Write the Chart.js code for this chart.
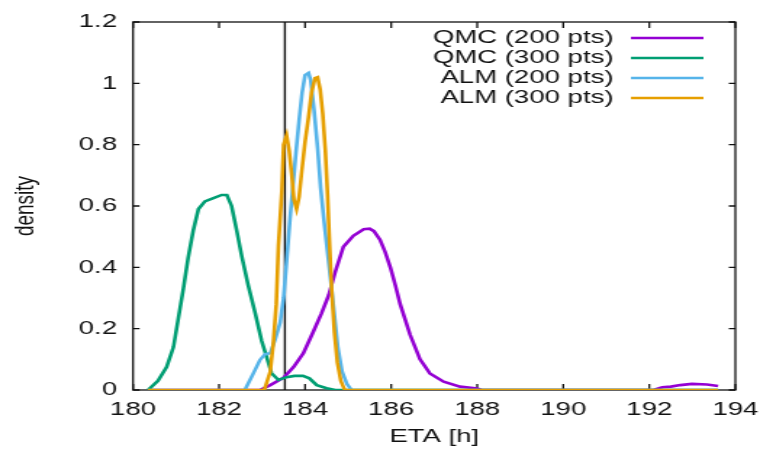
<!DOCTYPE html>
<html>
<head>
<meta charset="utf-8">
<script src="https://cdn.jsdelivr.net/npm/chart.js@4"></script>
<style>
body{margin:0;background:#fff;}
</style>
</head>
<body>
<!-- the reference text is wide, so the canvas is drawn narrow and shown stretched -->
<canvas id="chart" width="524" height="453" style="display:block;width:760px;height:453px"></canvas>
<script>
const labels = ["QMC (200 pts)","QMC (300 pts)","ALM (200 pts)","ALM (300 pts)"];
const colors = ["#9400d3","#009e73","#56b4e9","#e69f00"];
const trueEta = 183.53;

// QMC 200 pts
const qmc200X = [180.35,182.95,183.19,183.5,183.73,183.96,184.19,184.38,184.55,184.7,184.89,185.12,185.36,185.5,185.6,185.74,185.86,185.98,186.1,186.21,186.44,186.67,186.9,187.22,187.6,188.0,188.1,192.1,192.3,192.5,192.72,192.99,193.34,193.6];
const qmc200Y = [0,0,0.016,0.04,0.075,0.12,0.19,0.25,0.31,0.385,0.467,0.503,0.524,0.526,0.518,0.49,0.45,0.4,0.34,0.28,0.18,0.1,0.054,0.027,0.011,0.005,0,0,0.009,0.011,0.016,0.02,0.018,0.013];

// QMC 300 pts
const qmc300X = [180.35,180.58,180.78,180.94,181.05,181.17,181.28,181.4,181.52,181.67,181.87,182.06,182.18,182.29,182.41,182.53,182.68,182.84,182.99,183.1,183.22,183.38,183.57,183.75,183.95,184.1,184.27,184.5,184.7,193.6];
const qmc300Y = [0,0.03,0.075,0.14,0.23,0.33,0.43,0.52,0.59,0.615,0.626,0.636,0.636,0.6,0.52,0.435,0.34,0.25,0.16,0.11,0.055,0.033,0.042,0.046,0.046,0.038,0.016,0.006,0,0];

// ALM 200 pts
const alm200X = [180.35,182.6,182.8,182.95,183.07,183.19,183.3,183.42,183.5,183.57,183.65,183.72,183.79,183.86,183.93,184.0,184.08,184.13,184.21,184.29,184.36,184.44,184.52,184.6,184.67,184.76,184.86,184.97,185.08,193.6];
const alm200Y = [0,0,0.055,0.098,0.117,0.12,0.163,0.22,0.3,0.42,0.56,0.67,0.78,0.88,0.97,1.027,1.034,1.01,0.91,0.79,0.66,0.55,0.45,0.35,0.26,0.14,0.06,0.02,0,0];

// ALM 300 pts
const alm300X = [180.35,183.05,183.19,183.26,183.33,183.38,183.46,183.5,183.57,183.63,183.69,183.74,183.8,183.86,183.92,184.0,184.08,184.15,184.23,184.29,184.35,184.41,184.47,184.52,184.57,184.62,184.68,184.75,184.83,184.92,193.6];
const alm300Y = [0,0,0.06,0.15,0.28,0.47,0.65,0.8,0.83,0.78,0.7,0.62,0.59,0.63,0.71,0.81,0.89,0.97,1.017,1.02,0.98,0.9,0.78,0.64,0.47,0.32,0.19,0.09,0.03,0,0];

const xTicks = [180,182,184,186,188,190,192,194];
const yTicks = [0,0.2,0.4,0.6,0.8,1,1.2];

const font = {family:"'Liberation Sans', Arial, sans-serif", size:19};
const ink = "#111";

function pts(xs, ys){
return xs.map((x,i) => ({x:x, y:ys[i]}));
}

const seriesX = [qmc200X, qmc300X, alm200X, alm300X];
const seriesY = [qmc200Y, qmc300Y, alm200Y, alm300Y];

const datasets = labels.map((l,i) => ({
label:l,
data:pts(seriesX[i], seriesY[i]),
borderColor:colors[i],
borderWidth:2.6,
pointRadius:0,
tension:0,
fill:false,
order:3-i
}));

datasets.push({
label:"",
data:[{x:trueEta,y:yTicks[0]},{x:trueEta,y:yTicks[yTicks.length-1]}],
borderColor:ink,
borderWidth:1.4,
pointRadius:0,
order:9
});

// gnuplot style box with inward ticks
const frame = {
id:"frame",
beforeDatasetsDraw(chart){
const {ctx, chartArea:a, scales:{x, y}} = chart;
ctx.save();
ctx.strokeStyle = ink;
ctx.lineWidth = 1.3;
ctx.strokeRect(a.left, a.top, a.width, a.height);
ctx.beginPath();
xTicks.forEach(v => {
const px = x.getPixelForValue(v);
ctx.moveTo(px, a.bottom); ctx.lineTo(px, a.bottom-6);
ctx.moveTo(px, a.top); ctx.lineTo(px, a.top+6);
});
yTicks.forEach(v => {
const py = y.getPixelForValue(v);
ctx.moveTo(a.left, py); ctx.lineTo(a.left+4.5, py);
ctx.moveTo(a.right, py); ctx.lineTo(a.right-4.5, py);
});
ctx.stroke();
ctx.restore();
},
afterDatasetsDraw(chart){
const {ctx, chartArea:a} = chart;
ctx.save();
ctx.font = "19px " + font.family;
ctx.textAlign = "right";
ctx.textBaseline = "middle";
labels.forEach((l,i) => {
const yy = a.top + 16 + 20*i;
ctx.fillStyle = ink;
ctx.fillText(l, a.right-84, yy);
ctx.strokeStyle = colors[i];
ctx.lineWidth = 2.6;
ctx.beginPath();
ctx.moveTo(a.right-72, yy);
ctx.lineTo(a.right-22, yy);
ctx.stroke();
});
ctx.restore();
}
};

new Chart(document.getElementById("chart"),{
type:"line",
data:{datasets:datasets},
options:{
responsive:false,
devicePixelRatio:1,
animation:false,
layout:{padding:{top:22, right:17, left:0, bottom:0}},
plugins:{legend:{display:false}, tooltip:{enabled:false}},
scales:{
x:{
type:"linear",
min:xTicks[0],
max:xTicks[xTicks.length-1],
afterBuildTicks(s){ s.ticks = xTicks.map(v => ({value:v})); },
ticks:{font:font, color:ink, padding:8, callback:v => String(v)},
grid:{display:false, drawTicks:false},
border:{display:false},
title:{display:true, text:"ETA [h]", font:font, color:ink, padding:{top:0, bottom:5}},
afterFit(s){ s.height = 63; s.paddingLeft = 0; s.paddingRight = 0; }
},
y:{
min:yTicks[0],
max:yTicks[yTicks.length-1],
afterBuildTicks(s){ s.ticks = yTicks.map(v => ({value:v})); },
ticks:{font:font, color:ink, padding:11, callback:v => String(v)},
grid:{display:false, drawTicks:false},
border:{display:false},
title:{display:true, text:"density", font:font, color:ink, padding:{top:6, bottom:0}},
afterFit(s){ s.width = 91.7; s.paddingTop = 0; s.paddingBottom = 0; }
}
}
},
plugins:[frame]
});
</script>
</body>
</html>
